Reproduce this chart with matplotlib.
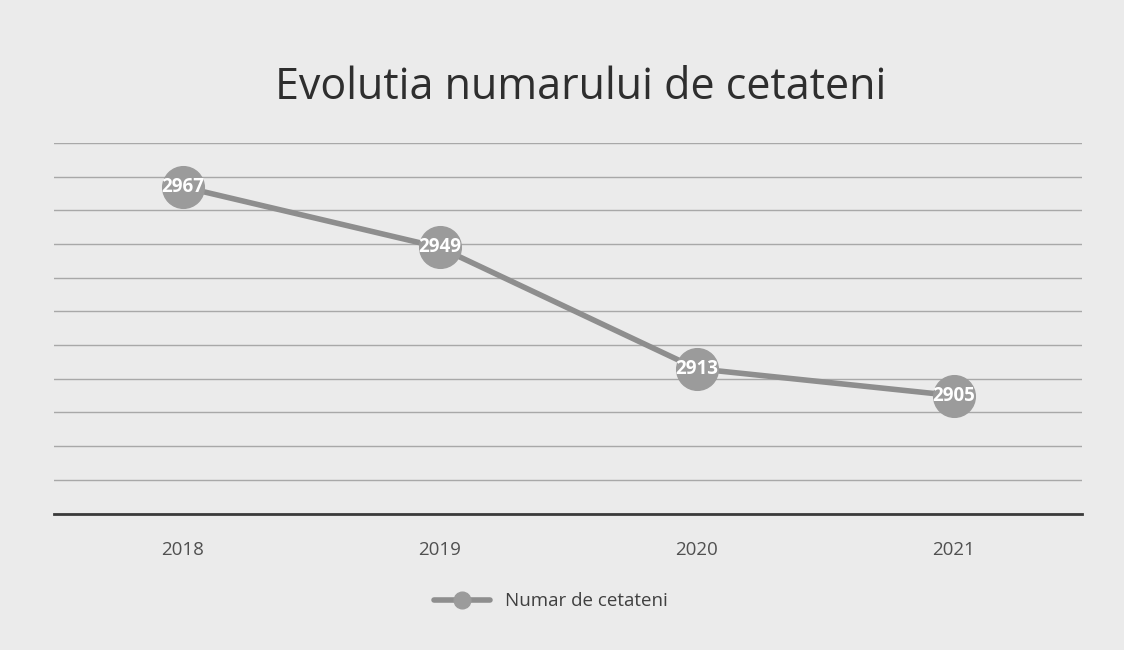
import matplotlib.pyplot as plt
import numpy as np

years = ["2018", "2019", "2020", "2021"]
citizens = [2967, 2949, 2913, 2905]

fig = plt.figure(figsize=(11.24, 6.5), dpi=100, facecolor="#ebebeb")
ax = fig.add_axes([0.048, 0.21, 0.915, 0.57])
ax.set_facecolor("none")

x = np.arange(len(years))
ax.plot(x, citizens, color="#8e8e8e", linewidth=4, marker="o", markersize=30,
        markerfacecolor="#9b9b9b", markeredgecolor="#9b9b9b", solid_capstyle="round",
        label="Numar de cetateni", zorder=3)

for xi, v in zip(x, citizens):
    ax.text(xi, v, str(v), ha="center", va="center", color="white",
            fontsize=13.5, fontweight="bold", family="Open Sans", zorder=4)

ax.set_xlim(-0.5, len(years) - 0.5)
ax.set_ylim(2870, 2980)
ax.set_yticks(np.arange(2870, 2981, 10))
ax.yaxis.grid(True, color="#a8a8a8", linewidth=1)
ax.set_axisbelow(True)
ax.tick_params(axis="y", left=False, labelleft=False)
ax.tick_params(axis="x", length=0, pad=20, labelsize=13.5, labelcolor="#505050")
ax.set_xticks(x)
ax.set_xticklabels(years, family="Open Sans")

for side in ["top", "right", "left"]:
    ax.spines[side].set_visible(False)
ax.spines["bottom"].set_color("#3a3a3a")
ax.spines["bottom"].set_linewidth(2)

fig.text(0.517, 0.865, "Evolutia numarului de cetateni", ha="center", va="center",
         fontsize=31, color="#2e2e2e", family="Open Sans")

leg = fig.legend(loc="center", bbox_to_anchor=(0.49, 0.075), frameon=False,
                 prop={"family": "Open Sans", "size": 13.5}, handlelength=3,
                 markerscale=0.4, labelcolor="#404040")

plt.savefig("out.png", dpi=100, facecolor=fig.get_facecolor())
